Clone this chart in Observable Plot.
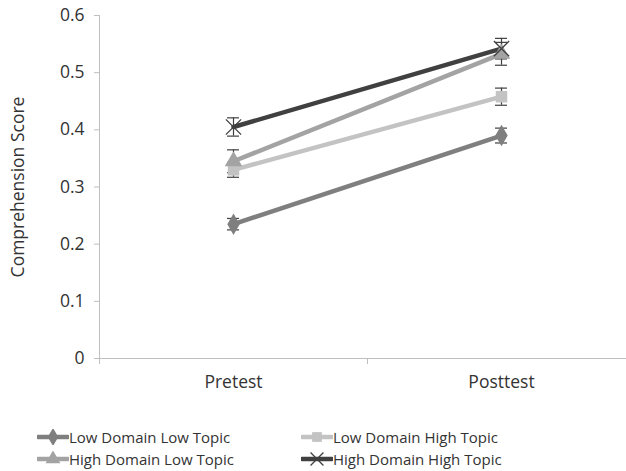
<!DOCTYPE html>
<html>
<head>
<meta charset="utf-8">
<script src="https://cdn.jsdelivr.net/npm/d3@7"></script>
<script src="https://cdn.jsdelivr.net/npm/@observablehq/plot@0.6"></script>
<style>
  body { margin: 0; background: #fff; font-family: "Open Sans", sans-serif; }
  #chart { width: 626px; height: 471px; overflow: hidden; position: relative; }
  #chart svg text { font-size: 17.5px; }
  #legend { position: absolute; left: 0; top: 426px; width: 626px; font-size: 15px; color: #333; }
  .item { position: absolute; display: flex; align-items: center; height: 22px; white-space: nowrap; }
  .item svg { display: block; }
</style>
</head>
<body>
<div id="chart"></div>
<script>
// ---- data ----
const phases = ["Pretest", "Posttest"];
const seriesNames = ["Low Domain Low Topic", "Low Domain High Topic", "High Domain Low Topic", "High Domain High Topic"];
const seriesColors = ["#7f7f7f", "#c3c3c3", "#a3a3a3", "#404040"];
const seriesSymbols = ["diamond", "square", "triangle", "times"];
const pretestScores = [0.235, 0.330, 0.345, 0.405];
const posttestScores = [0.390, 0.458, 0.533, 0.542];
const pretestErrors = [0.010, 0.013, 0.020, 0.016];
const posttestErrors = [0.013, 0.015, 0.020, 0.018];
const yTicks = [0, 0.1, 0.2, 0.3, 0.4, 0.5, 0.6];

const rows = [];
seriesNames.forEach((s, i) => {
  rows.push({series: s, phase: phases[0], value: pretestScores[i], err: pretestErrors[i]});
  rows.push({series: s, phase: phases[1], value: posttestScores[i], err: posttestErrors[i]});
});

const axisColor = "#bfbfbf";
const textColor = "#333";

const axesMark = (index, scales, values, dimensions) => {
  const g = d3.create("svg:g");
  const x = scales.x, y = scales.y;
  const bw = x.bandwidth();
  const x0 = x(phases[0]);
  g.append("line").attr("x1", x0 + 0.5).attr("x2", x0 + 0.5)
    .attr("y1", y(0)).attr("y2", y(0.6)).attr("stroke", axisColor);
  g.append("line").attr("x1", x0).attr("x2", x(phases[1]) + bw)
    .attr("y1", y(0) + 0.5).attr("y2", y(0) + 0.5).attr("stroke", axisColor);
  const bounds = phases.map(p => x(p)).concat([x(phases[phases.length - 1]) + bw]);
  bounds.forEach(b => {
    g.append("line").attr("x1", b + 0.5).attr("x2", b + 0.5)
      .attr("y1", y(0)).attr("y2", y(0) + 6).attr("stroke", axisColor);
  });
  return g.node();
};

const plot = Plot.plot({
  width: 626,
  height: 400,
  marginLeft: 99,
  marginTop: 15,
  marginBottom: 42,
  marginRight: 0,
  style: { fontFamily: "Open Sans, sans-serif", fontSize: "17.5px", color: textColor, background: "#fff" },
  x: { type: "band", domain: phases, range: [99, 635], padding: 0 },
  y: { domain: [0, 0.6], range: [358, 15] },
  color: { domain: seriesNames, range: seriesColors },
  symbol: { domain: seriesNames, range: seriesSymbols },
  marks: [
    axesMark,
    Plot.axisY({ ticks: yTicks, tickSize: 5, tickPadding: 10, stroke: axisColor,
      tickFormat: d => String(+d.toFixed(1)), fill: textColor,
      label: "Comprehension Score", labelAnchor: "center", labelArrow: false, labelOffset: 88 }),
    Plot.axisX({ tickSize: 0, tickPadding: 17, fill: textColor, label: null }),
    Plot.ruleX(rows, { x: "phase", y1: d => d.value - d.err, y2: d => d.value + d.err, stroke: "#404040", strokeWidth: 1.2 }),
    Plot.tickY(rows, { x: "phase", y: d => d.value - d.err, stroke: "#404040", strokeWidth: 1.2, insetLeft: 128, insetRight: 128 }),
    Plot.tickY(rows, { x: "phase", y: d => d.value + d.err, stroke: "#404040", strokeWidth: 1.2, insetLeft: 128, insetRight: 128 }),
    Plot.line(rows, { x: "phase", y: "value", z: "series", stroke: "series", strokeWidth: 4.5 }),
    Plot.dot(rows.filter(d => d.series !== seriesNames[3]), { x: "phase", y: "value", symbol: "series", fill: "series", r: 6.5 }),
    Plot.dot(rows.filter(d => d.series === seriesNames[3]), { x: "phase", y: "value", symbol: "series", stroke: "series", strokeWidth: 1.3, r: 7 })
  ]
});

const chart = document.getElementById("chart");
chart.appendChild(plot);

// ---- legend ----
const legend = document.createElement("div");
legend.id = "legend";
chart.appendChild(legend);
const legendPos = [[37, 0], [301, 0], [37, 22], [301, 22]];
const symMap = { diamond: d3.symbolDiamond, square: d3.symbolSquare, triangle: d3.symbolTriangle, times: d3.symbolTimes };
seriesNames.forEach((s, i) => {
  const item = document.createElement("div");
  item.className = "item";
  item.style.left = legendPos[i][0] + "px";
  item.style.top = legendPos[i][1] + "px";
  const sw = d3.create("svg").attr("width", 32).attr("height", 16);
  sw.append("line").attr("x1", 1).attr("x2", 31).attr("y1", 8).attr("y2", 8)
    .attr("stroke", seriesColors[i]).attr("stroke-width", 4.5).attr("stroke-linecap", "round");
  const stroked = seriesSymbols[i] === "times";
  sw.append("path").attr("transform", "translate(16,8)")
    .attr("d", d3.symbol(symMap[seriesSymbols[i]], stroked ? 110 : 95)())
    .attr("fill", stroked ? "none" : seriesColors[i])
    .attr("stroke", stroked ? seriesColors[i] : "none").attr("stroke-width", 1.3);
  item.appendChild(sw.node());
  const t = document.createElement("span");
  t.textContent = s;
  item.appendChild(t);
  legend.appendChild(item);
});
</script>
</body>
</html>
